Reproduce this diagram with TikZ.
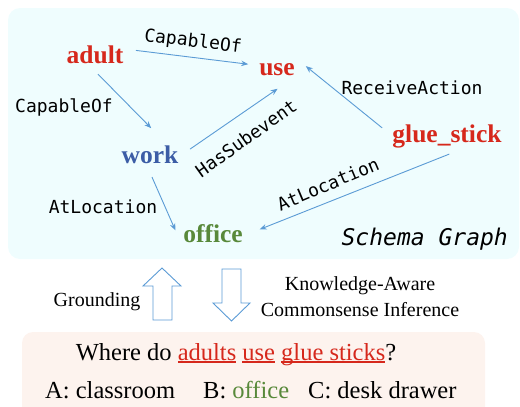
\documentclass[tikz,border=0pt]{standalone}
\usepackage{fontspec}
\setmainfont{Liberation Serif}
\setmonofont{DejaVu Sans Mono}
\usetikzlibrary{arrows.meta}
\definecolor{cred}{RGB}{214,40,28}
\definecolor{cblue}{RGB}{60,93,166}
\definecolor{cgreen}{RGB}{88,137,58}
\definecolor{cedge}{RGB}{91,155,213}
\definecolor{ccyan}{RGB}{239,253,254}
\definecolor{cpeach}{RGB}{253,243,238}
\newcommand\redul[1]{\textcolor{cred}{\setbox0\hbox{#1}\rlap{\rule[-2.8pt]{\wd0}{1.4pt}}\box0}}
\tikzset{
  concept/.style={font=\fontsize{25.5}{30}\selectfont\bfseries, inner sep=0pt,
    text height=17.5pt, text depth=5.6pt, anchor=base},
  rel/.style={font=\fontsize{18}{20}\selectfont\ttfamily, inner sep=1pt},
  relarrow/.style={draw=cedge, line width=0.9pt, -{Stealth[length=7pt,width=5.5pt]}},
  body/.style={font=\fontsize{24.5}{28}\selectfont, inner sep=0pt},
  small/.style={font=\fontsize{20}{27}\selectfont, inner sep=0pt, align=center},
  blockarrow/.style={draw=cedge, fill=white, line width=0.9pt, line join=miter},
}
\begin{document}
\begin{tikzpicture}[x=1pt, y=-1pt]
  \useasboundingbox (0,0) rectangle (520,407);
  \clip (0,0) rectangle (520,407);
  % panels
  \fill[ccyan, rounded corners=12pt] (8,8) rectangle (519,259);
  \fill[cpeach, rounded corners=11pt] (22,332) rectangle (485,430);
  % concepts
  \node[concept, text=cred]   (adult)  at (95,63)   {adult};
  \node[concept, text=cred]   (use)    at (277,75)  {use};
  \node[concept, text=cblue]  (work)   at (150,163) {work};
  \node[concept, text=cred]   (glue)   at (447,142) {glue\_stick};
  \node[concept, text=cgreen] (office) at (213,242) {office};
  % relations
  \draw[relarrow, shorten <=12.5pt, shorten >=11pt] (adult.16) -- (use.169);
  \draw[relarrow, shorten <=7.5pt, shorten >=24pt] (adult.-101) -- (work.33);
  \draw[relarrow, shorten <=14pt, shorten >=14pt] (work.east) -- (use.-44);
  \draw[relarrow, shorten <=13pt, shorten >=14pt] (glue.west) -- (use.north east);
  \draw[relarrow, shorten <=9pt, shorten >=19pt] (work.-98) -- (office.south west);
  \draw[relarrow, shorten <=17pt, shorten >=18pt] (glue.-33) -- (office.east);
  % relation labels
  \node[rel, rotate=-7]   (lab1) at (193,42)  {CapableOf};
  \node[rel]              (lab2) at (64,107)  {CapableOf};
  \node[rel, rotate=35.5] (lab3) at (246,138) {HasSubevent};
  \node[rel]              (lab4) at (412,88)  {ReceiveAction};
  \node[rel]              (lab5) at (103,207) {AtLocation};
  \node[rel, rotate=23]   (lab6) at (328,184) {AtLocation};
  \node[font=\fontsize{23}{26}\selectfont\ttfamily\itshape, inner sep=0pt, anchor=base east]
    (schema) at (508,245) {Schema Graph};
  % block arrows
  \draw[blockarrow] (153,320) -- (153,286) -- (143,286) -- (162,268) -- (181,286) -- (172,286) -- (172,320) -- cycle;
  \draw[blockarrow] (222,269) -- (241,269) -- (241,303) -- (250,303) -- (231.5,321) -- (213,303) -- (222,303) -- cycle;
  \node[small, anchor=base] (ground) at (97,306) {Grounding};
  \node[small, anchor=base] (infer1) at (360,290) {Knowledge-Aware};
  \node[small, anchor=base] (infer2) at (360,316.5) {Commonsense Inference};
  % question
  \node[body, anchor=base] (question) at (236,360)
    {Where do \redul{adults} \redul{use} \redul{glue sticks}?};
  \node[body, anchor=base west] (ansA) at (45,398)  {A: classroom};
  \node[body, anchor=base west] (ansB) at (203,398) {B: \textcolor{cgreen}{office}};
  \node[body, anchor=base west] (ansC) at (308,398) {C: desk drawer};
\end{tikzpicture}
\end{document}
